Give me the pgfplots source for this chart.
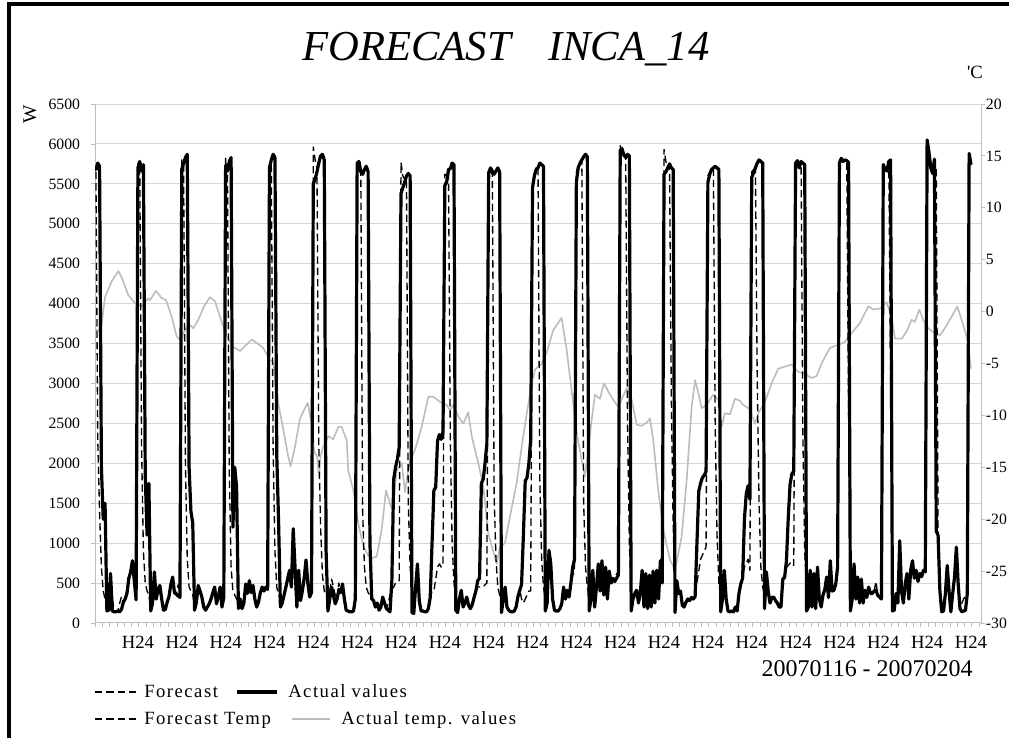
\documentclass[border=0pt]{standalone}
\usepackage{fontspec}
\setmainfont{Liberation Serif}
\newfontfamily\legendfont[LetterSpace=8]{Liberation Serif}
\usepackage{pgfplots}
\usepackage{pgfplotstable}
\pgfplotsset{compat=1.18}

% hourly load: actual (A) and forecast (F), in W, 20 days from hour 0
\pgfplotstableread{
A F
5680 5650
5760 2300
5720 1400
1950 700
1300 400
1500 300
150 250
160 200
620 350
150 300
140 150
140 140
150 150
140 250
170 330
260 260
300 300
370 420
560 560
640 640
780 700
530 530
290 380
5700 5760
5780 5720
5660 2200
5740 900
1850 500
1100 400
1750 350
150 200
250 250
640 600
300 300
420 420
470 380
300 300
160 200
170 170
260 260
330 330
480 480
575 520
380 380
360 360
340 480
320 350
5680 5800
5760 5720
5830 2000
5870 800
1950 450
1400 400
1250 350
160 250
260 260
470 470
400 400
325 325
200 250
160 160
200 200
240 240
300 300
380 380
450 450
240 300
330 330
450 450
200 200
320 320
5730 5820
5660 5700
5780 1900
5830 700
1200 400
1950 350
1700 300
180 250
300 300
180 180
250 250
490 490
370 370
530 530
380 380
470 470
300 300
200 200
260 260
380 380
450 450
400 400
450 450
420 420
5700 5750
5800 5780
5870 2200
5830 900
2100 450
1260 350
200 300
250 250
350 350
450 450
560 560
660 600
450 450
1180 700
700 500
200 200
660 660
280 280
400 400
560 560
790 650
500 500
325 325
380 380
5500 5960
5560 5800
5650 5700
5760 2240
5850 1200
5870 600
5800 400
900 350
150 300
300 400
450 550
350 450
240 350
300 300
420 500
380 380
490 490
300 300
160 160
150 150
140 140
140 140
150 150
300 300
5760 5750
5780 5700
5650 5660
5620 1400
5680 700
5720 450
5650 380
1000 350
300 300
280 280
200 200
250 250
160 160
200 200
325 325
250 250
180 180
160 250
140 350
530 420
1800 450
1950 500
2050 520
2200 530
5380 5770
5450 5600
5520 5560
5600 5580
5630 1490
5600 700
130 400
120 200
450 450
740 500
280 350
150 150
150 150
140 140
140 140
180 180
320 370
1000 380
1660 400
1700 550
2280 700
2360 740
2300 700
2400 720
5480 5620
5520 5600
5680 5650
5690 2280
5760 1000
5740 500
160 300
130 200
300 300
410 410
200 200
250 250
325 325
220 220
180 180
230 230
320 320
400 400
530 450
560 450
1750 450
1800 450
2000 480
2250 500
5640 5680
5700 5650
5660 5620
5620 1575
5660 800
5700 450
5650 350
130 300
300 300
450 450
200 200
160 160
140 140
140 140
150 150
200 200
330 330
410 410
480 300
1100 250
1780 300
1820 350
2000 400
2300 400
5450 5520
5600 5620
5680 5700
5700 5720
5760 1780
5740 800
5720 450
150 300
250 250
910 700
740 600
300 300
160 160
150 150
150 150
180 180
240 240
450 450
300 300
410 410
325 325
500 450
700 600
800 650
5520 5650
5700 5720
5760 5780
5800 5800
5840 1490
5870 700
5840 450
150 350
300 300
660 660
200 200
450 450
740 650
400 400
780 700
350 350
700 700
300 450
650 650
500 500
550 600
520 520
560 620
600 600
5920 5980
5940 5900
5860 5850
5830 5830
5870 2500
5850 1000
150 400
300 300
370 370
410 410
250 250
380 380
660 660
200 200
620 620
180 180
600 600
200 200
650 650
250 250
660 660
300 300
780 780
500 500
5620 5930
5650 5780
5700 5700
5750 5720
5700 2780
5680 1200
130 450
530 530
370 370
400 400
220 220
200 200
260 260
300 300
280 280
320 320
300 300
330 330
1000 500
1650 650
1750 800
1820 850
1850 900
1900 950
5520 5600
5620 5650
5680 5700
5700 5700
5720 2450
5700 1100
5680 500
140 350
300 300
660 660
300 300
150 150
140 140
150 150
140 140
200 200
150 150
370 370
490 490
560 560
1300 700
1620 750
1720 800
1550 660
5580 5650
5640 5680
5700 5720
5760 3050
5800 1500
5780 700
5760 450
180 350
640 640
400 400
250 250
320 320
325 325
280 280
250 250
200 200
200 200
550 450
575 550
780 700
1325 720
1740 750
1870 760
1900 720
5760 5800
5790 5780
5700 5740
5780 5760
5760 2320
5740 900
150 400
200 200
660 660
200 200
620 620
180 180
700 700
300 300
200 200
350 350
420 420
575 575
320 320
780 780
400 400
410 410
490 490
700 700
5760 5800
5820 5790
5780 5780
5800 5790
5790 5780
5770 2620
150 400
300 300
740 740
300 300
575 575
250 250
550 550
250 250
410 410
320 320
450 450
370 370
370 370
400 400
410 520
345 345
325 325
300 300
5740 5760
5680 5700
5660 5700
5780 5780
5800 3150
150 400
160 160
370 370
250 250
1030 1030
400 400
250 250
490 490
620 620
300 300
660 660
780 700
560 560
660 660
520 520
620 620
580 580
660 660
640 640
6050 5900
5900 5850
5700 5700
5630 5700
5810 5750
1150 5700
1100 1200
400 400
140 140
150 150
370 370
720 720
400 400
140 140
370 370
575 575
950 950
490 490
180 180
140 250
150 300
160 350
370 400
5880 5800
5750 5700
}\loadtable

% outdoor temperature, degrees C, against the hour index
\pgfplotstableread{
h T
0 -1.7
2.6 -1.9
5 1.4
8.6 2.9
12.3 3.9
14.1 3.3
17.7 1.6
21.4 0.8
25 0.5
28.7 1.3
29.6 1.1
32.9 2.0
36 1.3
38.4 1.1
41.5 -0.5
44.2 -2.4
46 -2.7
48.8 -1.8
51.5 -1.3
53.3 -1.6
56 -0.8
59.2 0.5
62.4 1.4
65.2 1.0
67.9 -0.5
71.6 -2.4
75.2 -3.4
78.9 -3.8
81.6 -3.3
85.3 -2.7
88 -3.0
91.6 -3.5
95.3 -4.7
97.1 -4.8
99.8 -8.8
102.6 -11.4
105.3 -14.0
106.6 -14.9
109 -13.0
111.7 -10.3
113.9 -9.5
115.9 -8.8
118.1 -10.8
119.5 -13.5
121.2 -14.0
122.1 -15.9
123 -13.9
124.5 -13.0
127.2 -12.0
129.9 -12.3
132.7 -11.1
134.5 -11.1
137.3 -12.4
138.1 -15.3
140.9 -17.2
143.6 -20.4
146.4 -22.6
150 -23.8
153.7 -23.6
156.4 -21.0
158.8 -17.2
161 -18.5
162.4 -19.1
164.6 -15.3
167.4 -14.6
169.2 -17.4
171.4 -14.7
174.7 -13.3
178.3 -11.1
182 -8.2
184.7 -8.2
188.3 -8.7
192 -9.0
193.8 -9.5
195.5 -9.0
198.4 -10.1
201.1 -10.8
203.8 -9.7
205.7 -12.0
209.3 -14.6
212.1 -16.9
214.8 -21.4
219.4 -24.3
221.2 -22.7
223.9 -22.3
226.6 -19.8
230.3 -16.5
233.9 -12.0
237.6 -7.9
240.3 -5.6
244 -5.0
246.7 -4.0
250.3 -1.8
254.9 -0.6
257.7 -3.7
260.4 -7.6
263.2 -11.7
265.9 -14.3
267.7 -15.9
269.5 -13.3
271.4 -10.4
273.2 -8.0
275.9 -8.4
278.1 -6.9
281.4 -8.0
285.9 -9.2
290.5 -7.4
293.3 -8.5
296 -10.9
298.7 -11.0
301.5 -10.7
303.3 -10.3
305.1 -12.4
307.8 -17.2
310.6 -21.0
314.2 -23.9
317 -24.9
320.6 -21.7
323.4 -16.2
326.1 -9.2
328 -6.6
329.7 -7.8
331.6 -9.3
334.3 -9.0
337.9 -8.0
340.7 -8.5
342.5 -11.1
344.3 -9.8
347.1 -9.9
349.8 -8.4
352.5 -8.6
354.3 -9.0
358 -9.4
360.7 -10.8
362.6 -9.8
366.2 -8.7
369.9 -6.9
373.5 -5.5
377.2 -5.3
380.8 -5.1
384.4 -5.8
388.1 -6.0
391.7 -6.4
394.5 -6.2
397.2 -5.0
401.8 -3.5
406.3 -3.2
410 -2.9
414.5 -1.9
418.2 -1.1
422.8 0.5
425.5 0.2
429.2 0.3
432.8 0.9
435.6 -0.5
437.4 -2.6
441.1 -2.6
443.8 -1.9
446.5 -0.8
448.3 -1.0
450.7 0.2
452.9 -0.8
455.6 -1.6
458.4 -2.0
462 -2.3
464.7 -1.6
468.4 -0.5
471.5 0.5
473.9 -0.8
476.6 -2.4
477.5 -3.1
479 -5.5
}\temptable

\definecolor{gridgray}{RGB}{214,214,214}
\definecolor{axisgray}{RGB}{190,190,190}
\definecolor{tempgray}{RGB}{188,188,188}

\pgfplotsset{
  frame/.style={
    at={(71.25pt,86.25pt)}, anchor=south west,
    width=664.5pt, height=389.25pt, scale only axis,
    xmin=-0.5, xmax=484.5,
    /pgf/number format/assume math mode=true,
    /pgf/number format/1000 sep={},
    scaled y ticks=false,
    tick align=outside,
  }
}

\begin{document}
\begin{tikzpicture}
\useasboundingbox (0,0) rectangle (756.75pt,553.5pt);

% power scale: grid, left and bottom axes
\begin{axis}[frame,
  ymin=0, ymax=6500,
  axis x line*=bottom, axis y line*=left,
  axis line style={axisgray, line width=0.75pt},
  ytick={0,500,...,6500},
  ymajorgrids, grid style={gridgray, line width=0.75pt},
  xtick={23,47,...,479}, xticklabel={H24},
  minor xtick={-0.5,3.5,...,484.5},
  major x tick style={draw=none},
  minor x tick style={axisgray, line width=0.6pt},
  ytick style={axisgray, line width=0.6pt},
  major tick length=3pt, minor tick length=3pt,
  yticklabel style={font=\fontsize{11.8}{12}\selectfont, inner sep=0pt, xshift=-8pt},
  xticklabel style={font=\fontsize{14}{14}\selectfont, inner sep=0pt, yshift=-7pt},
]
\end{axis}

% temperature scale on the right
\begin{axis}[frame,
  ymin=-30, ymax=20,
  axis x line=none, axis y line*=right,
  axis line style={axisgray, line width=0.75pt},
  ytick={-30,-25,...,20},
  ytick style={axisgray, line width=0.6pt},
  major tick length=3pt,
  yticklabel style={font=\fontsize{11.8}{12}\selectfont, inner sep=0pt, xshift=0.5pt},
]
\addplot[tempgray, line width=1.2pt, line join=round] table[x=h, y=T] {\temptable};
\end{axis}

% load curves
\begin{axis}[frame, ymin=0, ymax=6500, hide axis]
\addplot[black, line width=1pt, dash pattern=on 5.5pt off 3pt, line join=round]
  table[x expr=\coordindex, y=F] {\loadtable};
\addplot[black, line width=2.4pt, line join=round, line cap=round]
  table[x expr=\coordindex, y=A] {\loadtable};
\end{axis}

\begin{scope}[x=0.75pt, y=-0.75pt, shift={(0pt,553.5pt)}]
  % outer frame
  \draw[black, line width=3pt] (9,745) -- (9,4) -- (1015,4);
  % titles
  \node[anchor=base west, inner sep=0pt, font=\fontsize{32}{32}\selectfont\itshape]
    at (302,61) {FORECAST\hspace{28pt}INCA\_14};
  \node[anchor=base, inner sep=0pt, font=\fontsize{14}{14}\selectfont]
    at (975,79) {\textquotesingle C};
  \node[rotate=90, anchor=center, inner sep=0pt, font=\fontsize{14.5}{14.5}\selectfont]
    at (30,114) {W};
  \node[anchor=base east, inner sep=0pt, font=\fontsize{18}{18}\selectfont]
    at (973,677) {20070116 - 20070204};
  % legend
  \begin{scope}[font=\legendfont\fontsize{14}{14}\selectfont]
    \draw[black, line width=1pt, dash pattern=on 5.5pt off 3pt] (95,692) -- (137,692);
    \node[anchor=base west, inner sep=0pt] at (144,698) {Forecast};
    \draw[black, line width=2.4pt] (237,692) -- (277,692);
    \node[anchor=base west, inner sep=0pt] at (288,698) {Actual values};
    \draw[black, line width=1pt, dash pattern=on 5.5pt off 3pt] (95,719) -- (137,719);
    \node[anchor=base west, inner sep=0pt] at (144,725) {Forecast Temp};
    \draw[tempgray, line width=1.2pt] (292,719) -- (330,719);
    \node[anchor=base west, inner sep=0pt] at (341,725) {Actual temp. values};
  \end{scope}
\end{scope}
\end{tikzpicture}
\end{document}
